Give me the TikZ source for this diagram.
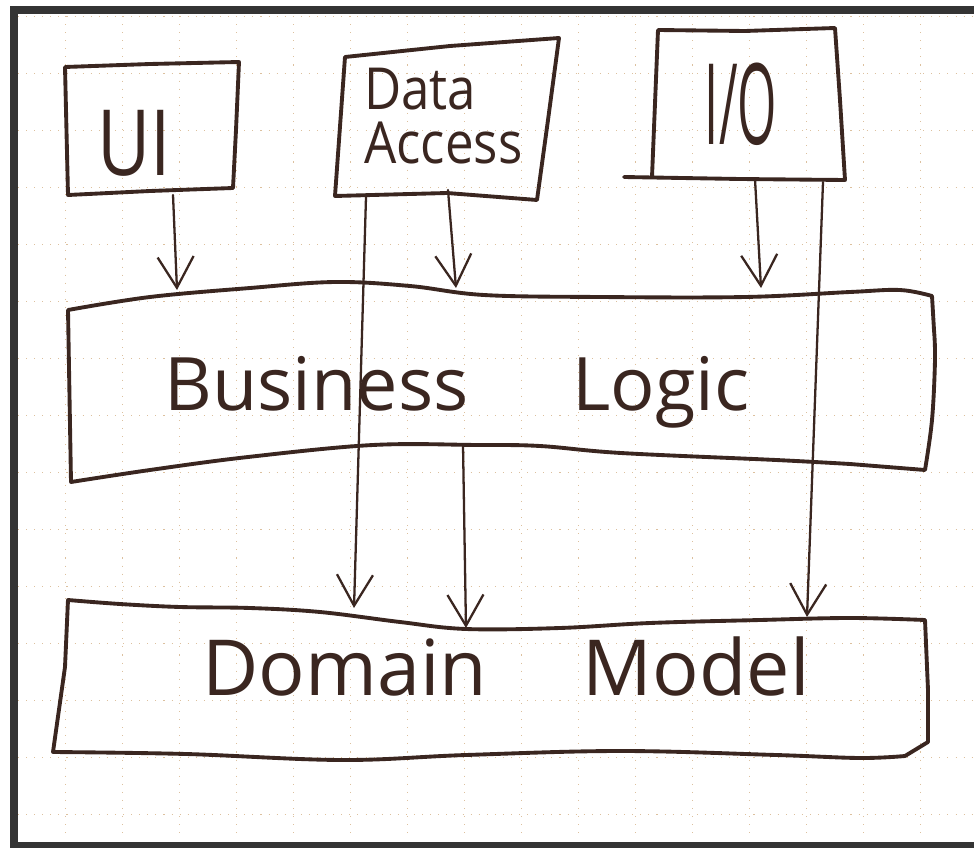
\documentclass[tikz,border=0pt]{standalone}
\usepackage{fontspec}
\setmainfont{Open Sans}
\usetikzlibrary{arrows.meta}

\definecolor{inchiostro}{RGB}{58,38,32}
\definecolor{cornice}{RGB}{52,52,52}
\definecolor{quadretti}{RGB}{220,192,158}

\begin{document}
\begin{tikzpicture}[x=0.02cm, y=-0.02cm,
        bordo/.style={draw=inchiostro, line width=2.2pt, line join=round, line cap=round},
        freccia/.style={draw=inchiostro, line width=1.3pt, line cap=round,
            -{Straight Barb[length=0.62cm, width=0.72cm, line width=1.3pt]}},
        scritta/.style={text=inchiostro, inner sep=0pt}]
    % --- Foglio e cornice ---
    \useasboundingbox (0,0) rectangle (974,848);
    \fill[white] (0,0) rectangle (974,848);

    % Quadretti puntinati
    \foreach \gx in {65,122,...,974}
        \draw[quadretti, line width=0.5pt, dash pattern=on 0.6pt off 4pt] (\gx,16) -- (\gx,840);
    \foreach \gy in {16,73,...,840}
        \draw[quadretti, line width=0.5pt, dash pattern=on 0.6pt off 4pt] (18,\gy) -- (974,\gy);

    \fill[cornice] (10,6) rectangle (974,14);
    \fill[cornice] (10,6) rectangle (18,848);
    \fill[cornice] (10,842) rectangle (974,848);

    % --- Riquadri in alto ---
    % UI
    \draw[bordo] (65,67) -- (150,64) -- (239,62) -- (236,130) -- (233,188)
        -- (150,191) -- (68,195) -- cycle;
    \node[scritta, anchor=base] (ui) at (134,175)
        {\fontsize{52}{52}\selectfont\scalebox{0.8}[1]{UI}};

    % Data Access
    \draw[bordo] (345,57) -- (450,46) -- (559,38) -- (548,120) -- (537,200)
        -- (447,193) -- (335,196) -- cycle;
    \node[scritta, anchor=west, align=left, font=\fontsize{33}{31}\selectfont] (dati) at (364,116)
        {\scalebox{0.88}[1]{Data}\\\scalebox{0.88}[1]{Access}};

    % I/O (il lato inferiore sborda a sinistra)
    \draw[bordo] (652,177) -- (658,30) -- (745,31) -- (835,28) -- (840,100)
        -- (845,180) -- (740,179) -- (624,177);
    \node[scritta, anchor=base] (io) at (741,145)
        {\fontsize{64}{64}\selectfont\scalebox{0.45}[1]{I/O}};

    % --- Business Logic ---
    \draw[bordo] plot[smooth, tension=0.6] coordinates {(68,310) (150,297) (250,288)
            (335,282) (410,286) (484,295) (600,297) (745,297) (850,292) (900,290) (932,296)}
        -- plot[smooth, tension=0.6] coordinates {(934,330) (935,360) (932,420) (925,470)}
        -- plot[smooth, tension=0.6] coordinates {(850,464) (776,460)
            (621,453) (540,446) (478,445) (373,445) (248,457) (150,470) (71,482)}
        -- cycle;
    \node[scritta, anchor=base] (logica) at (457,410)
        {\fontsize{42}{42}\selectfont Business\hspace{1.15em} Logic};

    % --- Domain Model ---
    \draw[bordo] plot[smooth, tension=0.6] coordinates {(68,600) (120,604) (180,607)
            (250,608) (320,612) (400,622) (466,629) (560,628) (650,623) (760,620)
            (850,618) (925,620)}
        -- (928,690) -- (928,742)
        -- plot[smooth, tension=0.6] coordinates {(905,756) (860,758) (776,755) (621,751)
            (466,755) (342,760) (186,754) (53,752)}
        -- (65,667) -- cycle;
    \node[scritta, anchor=base] (dominio) at (506,695)
        {\fontsize{44}{44}\selectfont Domain\hspace{0.98em} Model};

    % --- Punti di attacco delle frecce ---
    \coordinate (ui-giu) at (173,195);
    \coordinate (bl-ui) at (177,290);
    \coordinate (da-lunga) at (366,197);
    \coordinate (dm-da) at (354,608);
    \coordinate (da-corta) at (448,190);
    \coordinate (bl-da) at (456,288);
    \coordinate (io-corta) at (755,179);
    \coordinate (bl-io) at (761,288);
    \coordinate (io-lunga) at (823,182);
    \coordinate (dm-io) at (807,617);
    \coordinate (bl-giu) at (463,445);
    \coordinate (dm-bl) at (466,628);

    % Frecce
    \draw[freccia] (ui-giu) -- (bl-ui);
    \draw[freccia] (da-lunga) -- (dm-da);
    \draw[freccia] (da-corta) -- (bl-da);
    \draw[freccia] (io-corta) -- (bl-io);
    \draw[freccia] (io-lunga) -- (dm-io);
    \draw[freccia] (bl-giu) -- (dm-bl);
\end{tikzpicture}
\end{document}
